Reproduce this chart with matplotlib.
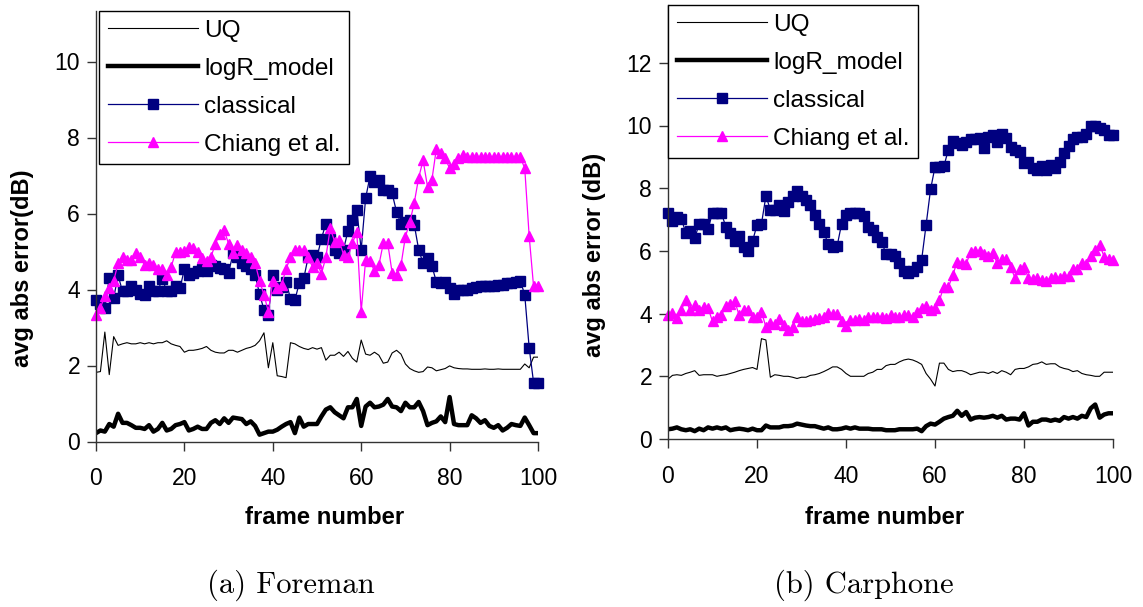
import numpy as np
import matplotlib
matplotlib.use('Agg')
import matplotlib.pyplot as plt

frames = np.arange(0, 101)

# (a) Foreman
fore_uq = [1.82, 1.84, 2.88, 1.76, 2.76, 2.53, 2.57, 2.60, 2.57, 2.57, 2.60, 2.57, 2.60, 2.57, 2.60, 2.60, 2.65, 2.57, 2.53, 2.50,
           2.35, 2.40, 2.40, 2.42, 2.45, 2.50, 2.40, 2.35, 2.33, 2.33, 2.40, 2.40, 2.35, 2.40, 2.45, 2.48, 2.53, 2.65, 2.86, 1.94,
           2.60, 1.73, 1.71, 1.68, 2.60, 2.57, 2.50, 2.45, 2.42, 2.47, 2.43, 2.47, 2.14, 2.27, 2.27, 2.35, 2.24, 2.37, 2.19, 2.09,
           2.67, 2.30, 2.27, 2.35, 2.27, 2.06, 2.09, 2.33, 2.40, 2.30, 2.04, 1.92, 1.86, 1.82, 1.84, 1.96, 1.94, 1.86, 1.89, 1.92,
           1.99, 1.94, 1.92, 1.91, 1.91, 1.90, 1.90, 1.90, 1.91, 1.90, 1.90, 1.91, 1.90, 1.90, 1.90, 1.90, 1.90, 2.04, 1.94, 2.22,
           2.22]
fore_logr = [0.22, 0.29, 0.26, 0.46, 0.39, 0.73, 0.49, 0.49, 0.43, 0.36, 0.36, 0.33, 0.43, 0.26, 0.33, 0.49, 0.29, 0.33, 0.43, 0.46,
             0.51, 0.29, 0.33, 0.39, 0.33, 0.33, 0.49, 0.56, 0.46, 0.61, 0.49, 0.63, 0.61, 0.59, 0.46, 0.53, 0.41, 0.18, 0.22, 0.26,
             0.26, 0.31, 0.39, 0.46, 0.51, 0.22, 0.63, 0.39, 0.46, 0.46, 0.46, 0.66, 0.84, 0.90, 0.77, 0.69, 0.61, 0.90, 0.90, 1.12,
             0.41, 0.92, 1.02, 0.90, 0.92, 0.97, 1.12, 0.92, 0.90, 0.80, 1.02, 0.90, 0.90, 1.04, 0.80, 0.43, 0.49, 0.53, 0.66, 0.51,
             1.17, 0.46, 0.43, 0.43, 0.43, 0.69, 0.61, 0.49, 0.56, 0.41, 0.36, 0.43, 0.29, 0.36, 0.46, 0.43, 0.41, 0.63, 0.43, 0.22,
             0.22]
fore_classical = [3.72, 3.62, 3.52, 4.30, 3.78, 4.37, 3.95, 3.96, 4.08, 3.98, 3.88, 3.86, 4.08, 3.96, 3.96, 4.28, 3.96, 3.96, 4.10, 4.03,
                  4.54, 4.37, 4.44, 4.49, 4.54, 4.49, 4.64, 4.61, 4.56, 4.54, 4.44, 4.95, 4.85, 4.71, 4.61, 4.54, 4.39, 3.88, 3.47, 3.32,
                  4.39, 3.98, 4.06, 4.20, 3.76, 3.72, 4.18, 4.29, 4.85, 4.90, 4.85, 5.34, 5.73, 5.34, 5.05, 4.95, 5.05, 5.54, 5.84, 6.09,
                  5.05, 6.40, 6.99, 6.84, 6.89, 6.61, 6.61, 6.53, 6.04, 5.73, 5.77, 5.84, 5.71, 5.05, 4.69, 4.83, 4.62, 4.20, 4.16, 4.20,
                  4.03, 3.88, 3.98, 4.00, 4.00, 4.03, 4.06, 4.08, 4.10, 4.10, 4.10, 4.13, 4.13, 4.16, 4.18, 4.20, 4.23, 3.86, 2.47, 1.55,
                  1.55]
fore_chiang = [3.32, 3.52, 3.83, 4.03, 4.23, 4.69, 4.85, 4.78, 4.78, 4.95, 4.85, 4.64, 4.71, 4.64, 4.54, 4.54, 4.37, 4.59, 4.98, 4.98,
               5.02, 5.12, 5.08, 5.00, 4.82, 4.74, 4.85, 5.20, 5.46, 5.56, 5.20, 4.95, 5.18, 5.05, 4.95, 4.85, 4.69, 4.23, 3.86, 3.42,
               4.23, 4.03, 4.13, 4.54, 4.85, 5.05, 5.05, 5.05, 4.85, 4.59, 4.71, 4.41, 4.85, 5.61, 5.26, 5.29, 4.92, 4.85, 5.22, 5.51,
               3.42, 4.78, 4.74, 4.49, 4.64, 5.22, 5.22, 4.44, 4.39, 4.64, 5.39, 5.77, 6.28, 6.94, 7.40, 6.71, 6.89, 7.70, 7.60, 7.45,
               7.19, 7.30, 7.45, 7.55, 7.50, 7.48, 7.48, 7.50, 7.48, 7.48, 7.48, 7.48, 7.48, 7.48, 7.48, 7.48, 7.48, 7.19, 5.41, 4.08,
               4.08]

# (b) Carphone
car_uq = [1.91, 2.03, 2.05, 2.03, 2.09, 2.13, 2.18, 2.03, 2.05, 2.05, 2.05, 2.00, 2.03, 2.05, 2.09, 2.13, 2.18, 2.22, 2.25, 2.28,
          2.22, 3.20, 3.16, 1.97, 2.05, 2.03, 2.00, 2.00, 1.97, 1.93, 1.97, 1.97, 2.03, 2.05, 2.09, 2.15, 2.22, 2.30, 2.30, 2.22,
          2.09, 2.00, 2.00, 2.00, 2.00, 2.09, 2.13, 2.22, 2.22, 2.34, 2.38, 2.38, 2.46, 2.52, 2.55, 2.52, 2.46, 2.38, 2.09, 1.91,
          1.69, 2.42, 2.42, 2.22, 2.15, 2.18, 2.18, 2.13, 2.05, 2.09, 2.13, 2.13, 2.09, 2.15, 2.09, 2.18, 2.13, 2.05, 2.22, 2.25,
          2.25, 2.30, 2.38, 2.40, 2.46, 2.38, 2.40, 2.40, 2.30, 2.25, 2.22, 2.15, 2.18, 2.09, 2.05, 2.03, 2.00, 2.00, 2.13, 2.13,
          2.13]
car_logr = [0.31, 0.33, 0.37, 0.31, 0.28, 0.31, 0.25, 0.33, 0.28, 0.37, 0.33, 0.37, 0.33, 0.37, 0.28, 0.31, 0.33, 0.31, 0.28, 0.33,
            0.28, 0.28, 0.43, 0.37, 0.37, 0.37, 0.41, 0.41, 0.43, 0.49, 0.46, 0.43, 0.41, 0.41, 0.37, 0.33, 0.37, 0.31, 0.31, 0.33,
            0.37, 0.33, 0.37, 0.33, 0.33, 0.33, 0.31, 0.31, 0.31, 0.28, 0.28, 0.28, 0.31, 0.31, 0.31, 0.31, 0.33, 0.25, 0.41, 0.49,
            0.46, 0.55, 0.65, 0.70, 0.74, 0.90, 0.74, 0.86, 0.62, 0.68, 0.70, 0.68, 0.70, 0.74, 0.68, 0.74, 0.62, 0.65, 0.65, 0.62,
            0.82, 0.43, 0.55, 0.55, 0.62, 0.62, 0.58, 0.62, 0.58, 0.70, 0.65, 0.70, 0.65, 0.74, 0.70, 0.98, 1.10, 0.68, 0.78, 0.82,
            0.82]
car_classical = [7.22, 6.95, 7.08, 7.02, 6.58, 6.65, 6.40, 6.86, 6.86, 6.71, 7.20, 7.22, 7.20, 6.77, 6.58, 6.31, 6.49, 6.12, 6.00, 6.31,
                 6.83, 6.86, 7.75, 7.32, 7.32, 7.47, 7.26, 7.57, 7.75, 7.91, 7.75, 7.63, 7.45, 7.14, 6.86, 6.61, 6.22, 6.12, 6.15, 6.86,
                 7.14, 7.20, 7.22, 7.20, 7.10, 6.77, 6.68, 6.44, 6.28, 5.91, 5.91, 5.85, 5.62, 5.35, 5.29, 5.35, 5.50, 5.72, 6.83, 7.96,
                 8.68, 8.68, 8.70, 9.23, 9.51, 9.44, 9.39, 9.48, 9.56, 9.56, 9.60, 9.29, 9.64, 9.69, 9.48, 9.72, 9.60, 9.32, 9.23, 9.17,
                 8.80, 8.82, 8.65, 8.58, 8.70, 8.58, 8.74, 8.65, 8.82, 9.11, 9.35, 9.56, 9.64, 9.64, 9.72, 10.00, 10.00, 9.93, 9.85, 9.69,
                 9.69]
car_chiang = [3.94, 4.02, 3.85, 4.12, 4.43, 4.10, 4.27, 4.12, 4.22, 4.18, 3.75, 3.90, 3.94, 4.25, 4.31, 4.39, 3.94, 4.12, 4.10, 3.88,
              3.88, 4.06, 3.57, 3.69, 3.66, 3.82, 3.63, 3.48, 3.57, 3.88, 3.75, 3.75, 3.78, 3.82, 3.85, 3.88, 4.02, 4.00, 3.98, 3.75,
              3.61, 3.78, 3.78, 3.82, 3.78, 3.88, 3.90, 3.88, 3.90, 3.85, 3.94, 3.90, 3.88, 3.94, 3.94, 3.90, 4.06, 4.18, 4.25, 4.12,
              4.18, 4.43, 4.86, 4.84, 5.23, 5.66, 5.60, 5.58, 5.97, 6.00, 6.00, 5.91, 5.85, 5.94, 5.60, 5.75, 5.75, 5.48, 5.13, 5.42,
              5.50, 5.13, 5.11, 5.13, 5.08, 5.05, 5.13, 5.17, 5.13, 5.21, 5.21, 5.42, 5.42, 5.62, 5.58, 5.85, 6.03, 6.19, 5.82, 5.75,
              5.72]

series_labels = ['UQ', 'logR_model', 'classical', 'Chiang et al.']
x_ticks = [0, 20, 40, 60, 80, 100]

plt.rcParams['font.family'] = ['Liberation Sans', 'DejaVu Sans']

W, H = 1143, 607
fig = plt.figure(figsize=(W / 100, H / 100), dpi=100)


def draw(ax, uq, logr, classical, chiang, yticks, ylabel):
    ax.plot(frames, uq, color='black', lw=0.8, label=series_labels[0])
    ax.plot(frames, logr, color='black', lw=3.2, label=series_labels[1])
    ax.plot(frames, classical, color='#000080', lw=0.9, marker='s', ms=6.5,
            mec='#000080', mfc='#000080', label=series_labels[2], clip_on=False)
    ax.plot(frames, chiang, color='#FF00FF', lw=0.9, marker='^', ms=7,
            mec='#FF00FF', mfc='#FF00FF', label=series_labels[3], clip_on=False)
    ax.set_xlim(0, 100)
    ax.set_xticks(x_ticks)
    ax.set_yticks(yticks)
    for s in ['top', 'right']:
        ax.spines[s].set_visible(False)
    for s in ['left', 'bottom']:
        ax.spines[s].set_color('#333333')
        ax.spines[s].set_linewidth(1.0)
    ax.tick_params(direction='out', length=6.5, width=1.0, color='#333333', labelsize=16.5)
    ax.tick_params(axis='x', pad=12)
    ax.tick_params(axis='y', pad=5)
    ax.set_xlabel('frame number', fontsize=17.2, fontweight='bold', va='center')
    ax.set_ylabel(ylabel, fontsize=17, fontweight='bold', va='center', ha='center')
    ax.set_facecolor('none')


# left panel: y=0 at px 441.5, 38 px per unit, top at px 11, x from 96 to 538
axl = fig.add_axes([96 / W, 1 - 441.5 / H, 442 / W, (441.5 - 11) / H])
draw(axl, fore_uq, fore_logr, fore_classical, fore_chiang, [0, 2, 4, 6, 8, 10], 'avg abs error(dB)')
axl.set_ylim(0, (441.5 - 11) / 38)
axl.xaxis.set_label_coords((325 - 96) / 442, (441.5 - 518) / 430.5)
axl.yaxis.set_label_coords((23 - 96) / 442, (441.5 - 268) / 430.5)

# right panel: y=0 at px 439, 31.35 px per unit, top at px 5, x from 668 to 1113
axr = fig.add_axes([668 / W, 1 - 439 / H, 445 / W, (439 - 5) / H])
draw(axr, car_uq, car_logr, car_classical, car_chiang, [0, 2, 4, 6, 8, 10, 12], 'avg abs error (dB)')
axr.set_ylim(0, (439 - 5) / 31.35)
axr.xaxis.set_label_coords((885 - 668) / 445, (439 - 518) / 434)
axr.yaxis.set_label_coords((595 - 668) / 445, (439 - 255) / 434)

for ax, (lx, ty) in [(axl, (99, 11)), (axr, (668, 5))]:
    leg = ax.legend(loc='upper left', bbox_to_anchor=(lx / W, 1 - ty / H),
                    bbox_transform=fig.transFigure, borderaxespad=0,
                    fontsize=17.6, frameon=True, fancybox=False, shadow=False,
                    handlelength=3.7, handletextpad=0.25, labelspacing=0.65,
                    borderpad=0.35)
    leg.get_frame().set_edgecolor('black')
    leg.get_frame().set_linewidth(1.0)
    leg.get_frame().set_facecolor('white')
    leg.get_frame().set_alpha(1)

fig.text(291 / W, 1 - 585 / H, '(a) Foreman', family='cmr10', fontsize=22, ha='center', va='center')
fig.text(864 / W, 1 - 585 / H, '(b) Carphone', family='cmr10', fontsize=22, ha='center', va='center')

fig.savefig('out.png', dpi=100)
